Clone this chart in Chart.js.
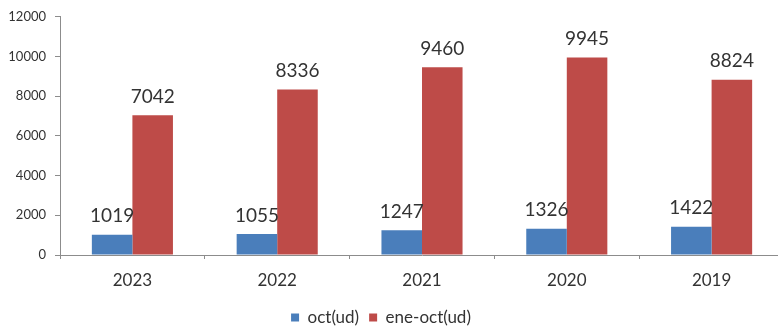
<!DOCTYPE html>
<html>
<head>
<meta charset="utf-8">
<script src="https://cdn.jsdelivr.net/npm/chart.js@4"></script>
<style>
    html, body { margin: 0; padding: 0; background: #ffffff; overflow: hidden; }
    .wrap { width: 790px; height: 329px; position: relative; }
</style>
</head>
<body>
<div class="wrap"><canvas id="chart"></canvas></div>
<script>
// Data
const years = ['2023', '2022', '2021', '2020', '2019'];
const octUnits = [1019, 1055, 1247, 1326, 1422];
const eneOctUnits = [7042, 8336, 9460, 9945, 8824];
const yTicks = [0, 2000, 4000, 6000, 8000, 10000, 12000];

const fontFamily = "Lato, 'Open Sans', sans-serif";
const textColor = '#333333';
const axisColor = '#8c8c8c';

// Draw the value above every bar
const valueLabels = {
    id: 'valueLabels',
    afterDatasetsDraw(chart) {
        const ctx = chart.ctx;
        ctx.save();
        ctx.font = '19px ' + fontFamily;
        ctx.fillStyle = textColor;
        ctx.textAlign = 'center';
        ctx.textBaseline = 'bottom';
        chart.data.datasets.forEach((ds, i) => {
            chart.getDatasetMeta(i).data.forEach((bar, j) => {
                ctx.fillText(ds.data[j], bar.x, bar.y - 9);
            });
        });
        ctx.restore();
    }
};

const ctx = document.getElementById('chart').getContext('2d');
new Chart(ctx, {
    type: 'bar',
    data: {
        labels: years,
        datasets: [
            {
                label: 'oct(ud)',
                data: octUnits,
                backgroundColor: '#4a7ebb',
                barPercentage: 1,
                categoryPercentage: 0.56
            },
            {
                label: 'ene-oct(ud)',
                data: eneOctUnits,
                backgroundColor: '#be4b48',
                barPercentage: 1,
                categoryPercentage: 0.56
            }
        ]
    },
    options: {
        responsive: true,
        maintainAspectRatio: false,
        animation: false,
        layout: {
            padding: { top: 7, left: -22, right: 6, bottom: -7 }
        },
        plugins: {
            legend: {
                position: 'bottom',
                labels: {
                    color: textColor,
                    font: { family: fontFamily, size: 17 },
                    boxWidth: 8,
                    boxHeight: 8,
                    padding: 10
                }
            },
            tooltip: { enabled: false }
        },
        scales: {
            x: {
                afterFit(scale) {
                    scale.height = 44;
                },
                grid: {
                    drawOnChartArea: false,
                    drawTicks: true,
                    tickLength: 4,
                    color: axisColor
                },
                border: { color: axisColor },
                ticks: {
                    color: textColor,
                    font: { family: fontFamily, size: 17 },
                    padding: 11
                }
            },
            y: {
                min: 0,
                max: 12000,
                afterBuildTicks(scale) {
                    scale.ticks = yTicks.map(v => ({ value: v }));
                },
                afterFit(scale) {
                    scale.width = 82;
                },
                grid: {
                    drawOnChartArea: false,
                    drawTicks: true,
                    tickLength: 5,
                    color: axisColor
                },
                border: { color: axisColor },
                ticks: {
                    color: textColor,
                    font: { family: fontFamily, size: 13 },
                    padding: 9,
                    callback: v => String(v)
                }
            }
        }
    },
    plugins: [valueLabels]
});
</script>
</body>
</html>
